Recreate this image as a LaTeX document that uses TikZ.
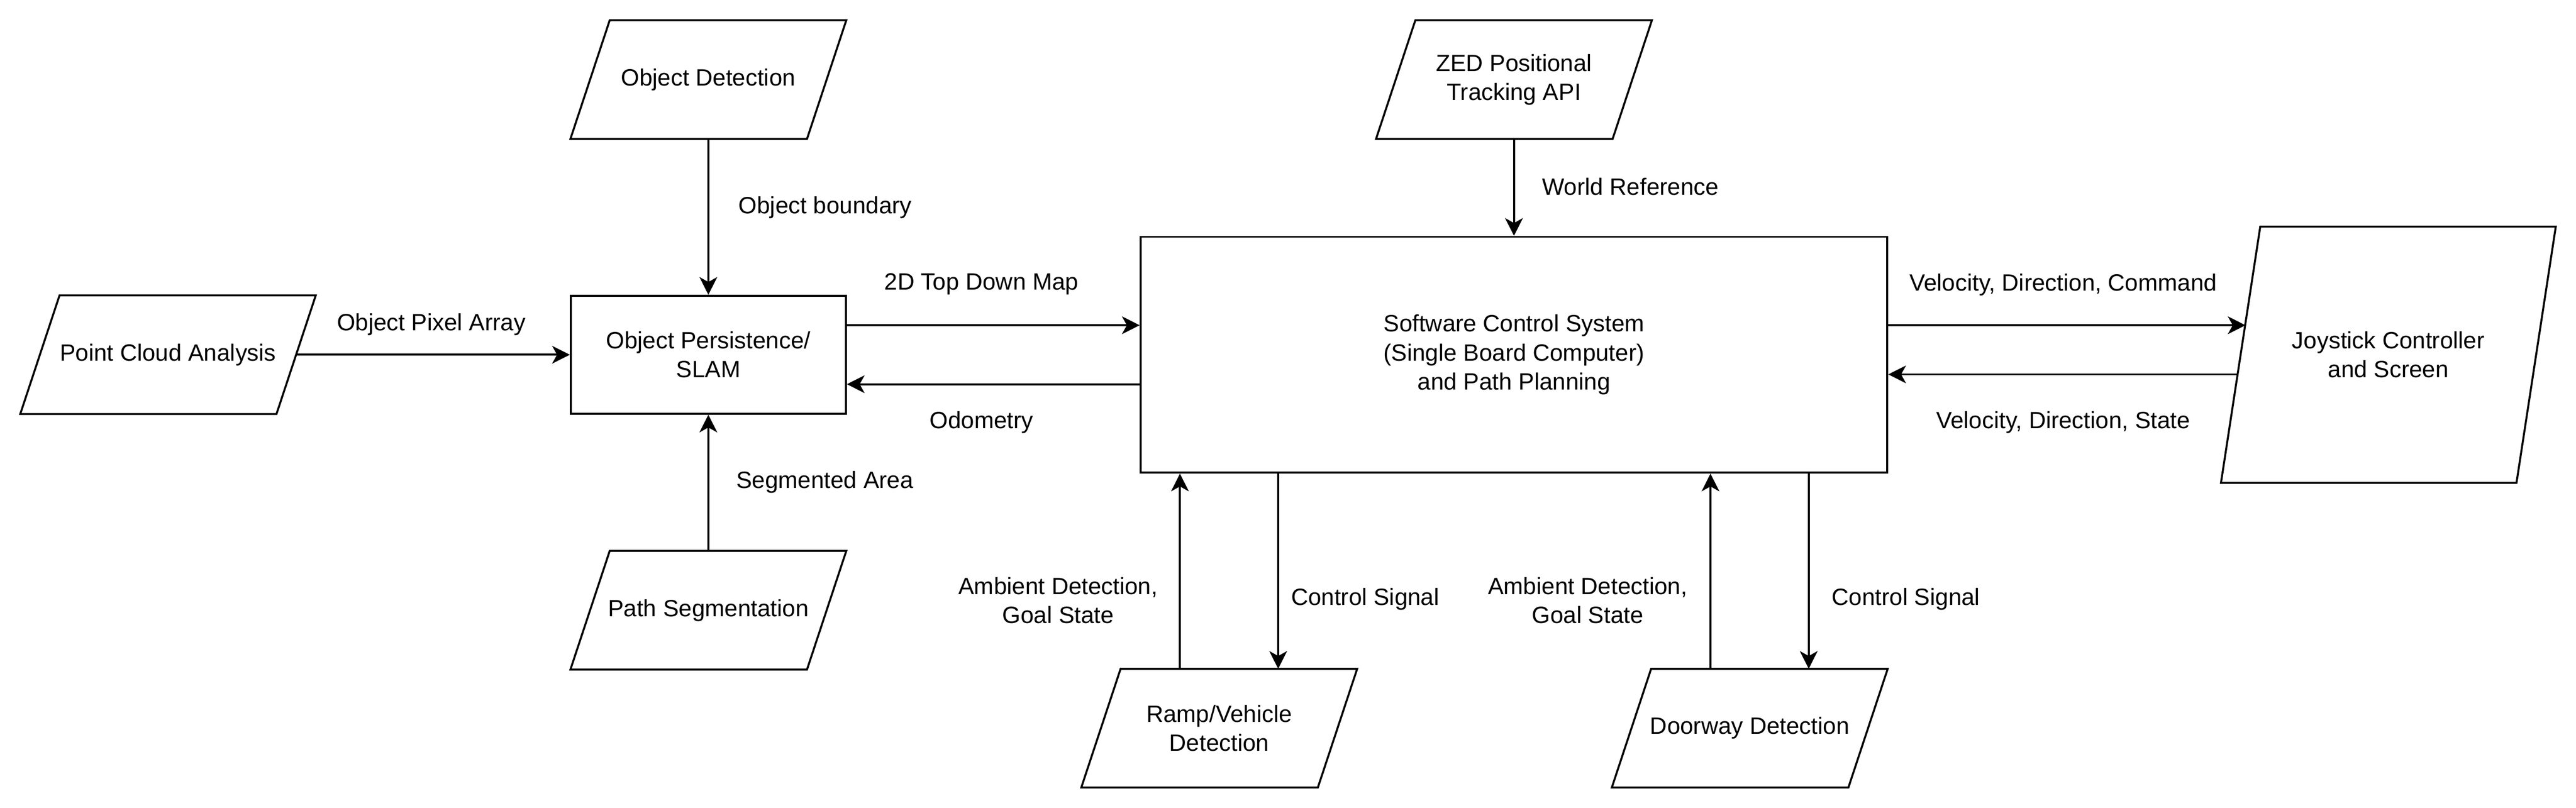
\documentclass[tikz,border=0pt]{standalone}
\usepackage{fontspec}
\setmainfont{Liberation Sans}
\usetikzlibrary{arrows.meta,calc}
\tikzset{
  txt/.style={font=\fontsize{12}{14.8}\selectfont, align=center, inner sep=0pt},
  boxnode/.style={txt, draw, line width=1pt, minimum width=140pt, minimum height=60pt},
  paranode/.style={txt, minimum width=140pt, minimum height=60pt},
  conn/.style={line width=1pt, -{Stealth[length=9pt,width=9pt,inset=2.5pt]}},
  lbl/.style={txt},
  paraline/.style={line width=1pt, line join=miter}
}
\begin{document}
\begin{tikzpicture}[x=1pt,y=-1pt]
\useasboundingbox (0,0) rectangle (1311,411);
\begin{scope}[shift={(10.5,10.5)}]
% nodes
\node[paranode] (od) at (350,30) {Object Detection};
\node[paranode, minimum width=150pt] (pc) at (75,170) {Point Cloud Analysis};
\node[boxnode] (slam) at (350,170) {Object Persistence/\\SLAM};
\node[paranode] (ps) at (350,300) {Path Segmentation};
\node[boxnode, minimum width=380pt, minimum height=120pt] (scs) at (760,170) {Software Control System\\ (Single Board Computer)\\and Path Planning};
\node[paranode] (zed) at (760,30) {ZED Positional\\Tracking API};
\node[paranode, minimum width=170pt, minimum height=130pt] (joy) at (1205,170) {Joystick Controller\\and Screen};
\node[paranode] (ramp) at (610,360) {Ramp/Vehicle\\Detection};
\node[paranode] (door) at (880,360) {Doorway Detection};
% parallelogram outlines
\foreach \n in {od,pc,ps,zed,joy,ramp,door}{
  \draw[paraline] ([xshift=20pt]\n.north west) -- (\n.north east) -- ([xshift=-20pt]\n.south east) -- (\n.south west) -- cycle;
}
% joystick edge points
\coordinate (joyin) at (1132.3,155);
\coordinate (joyout) at (1128.5,180);
% connectors
\draw[conn] (od.south) -- (slam.north);
\draw[conn] ([xshift=-10pt]pc.east) -- (slam.west);
\draw[conn] (ps.north) -- (slam.south);
\draw[conn] ([yshift=15pt]slam.east) -- ([yshift=15pt]scs.west);
\draw[conn] ([yshift=-15pt]scs.west) -- ([yshift=-15pt]slam.east);
\draw[conn] (zed.south) -- (scs.north);
\draw[conn] ([yshift=15pt]scs.east) -- (joyin);
\draw[conn] (joyout) -- ([yshift=-10pt]scs.east);
\draw[conn] ([xshift=-20pt]ramp.north) -- ([xshift=-20pt]ramp.north |- scs.south);
\draw[conn] ([xshift=30pt]ramp.north |- scs.south) -- ([xshift=30pt]ramp.north);
\draw[conn] ([xshift=-20pt]door.north) -- ([xshift=-20pt]door.north |- scs.south);
\draw[conn] ([xshift=30pt]door.north |- scs.south) -- ([xshift=30pt]door.north);
% labels
\node[lbl] (l1) at (409.5,95) {Object boundary};
\node[lbl] (l2) at (209,154.5) {Object Pixel Array};
\node[lbl] (l3) at (409.3,234.8) {Segmented Area};
\node[lbl] (l4) at (489,134) {2D Top Down Map};
\node[lbl] (l5) at (489,204.3) {Odometry};
\node[lbl] (l6) at (819.3,84.5) {World Reference};
\node[lbl] (l7) at (1039.5,134.5) {Velocity, Direction, Command};
\node[lbl] (l8) at (1039.5,204.3) {Velocity, Direction, State};
\node[lbl] (l9) at (528,295) {Ambient Detection,\\Goal State};
\node[lbl] (l10) at (684.3,294.3) {Control Signal};
\node[lbl] (l11) at (797.5,295) {Ambient Detection,\\Goal State};
\node[lbl] (l12) at (959.5,294.3) {Control Signal};
\end{scope}
\end{tikzpicture}
\end{document}
